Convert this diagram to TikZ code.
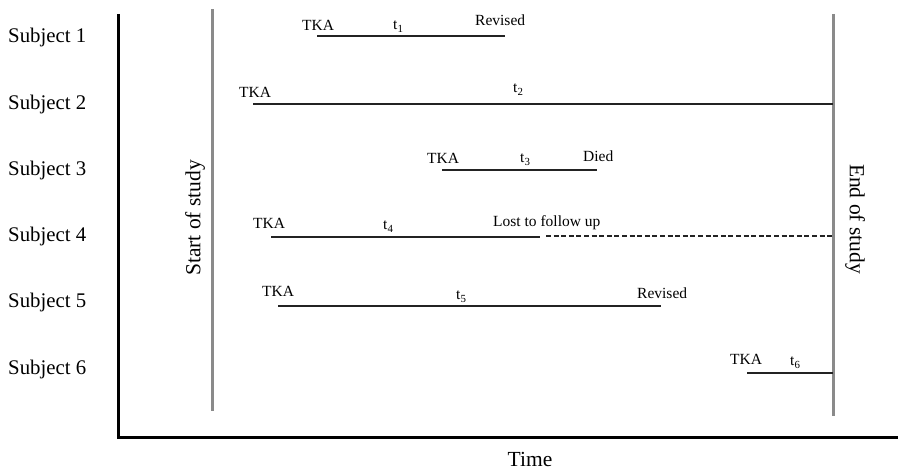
\documentclass[tikz,border=0pt]{standalone}
\usepackage{fontspec}
\setmainfont{Liberation Serif}
\definecolor{studygray}{RGB}{138,138,138}
\definecolor{lifeline}{RGB}{35,35,35}
\begin{document}
\begin{tikzpicture}[x=1pt,y=-1pt,
  subj/.style={anchor=base west,inner sep=0pt,font=\fontsize{20.8}{24}\selectfont},
  lab/.style={anchor=base west,inner sep=0pt,font=\fontsize{15.5}{18}\selectfont},
  big/.style={inner sep=0pt,font=\fontsize{21.5}{25}\selectfont},
  axisline/.style={line width=3pt,black},
  studyline/.style={line width=3pt,studygray},
  life/.style={line width=2pt,lifeline},
  lost/.style={line width=2pt,lifeline,dash pattern=on 5pt off 2.6pt}]
\fill[white] (0,0) rectangle (898,470);
\useasboundingbox (0,0) rectangle (898,470);
% axes
\coordinate (ytop) at (118,14);
\coordinate (origin) at (118,438);
\coordinate (xend) at (898,438);
\draw[axisline] (ytop) -- (origin) -- (xend);
\node[big,anchor=base] (time) at (530,467) {Time};
% study boundaries
\coordinate (st1) at (212,9.5);
\coordinate (st2) at (212,411);
\draw[studyline] (st1) -- (st2);
\coordinate (en1) at (833,14);
\coordinate (en2) at (833,416);
\draw[studyline] (en1) -- (en2);
\node[big,rotate=90] (startlab) at (195,218) {Start of study};
\node[big,rotate=-90] (endlab) at (855,219) {End of study};
% subject labels
\node[subj] (sub1) at (8,43) {Subject 1};
\node[subj] (sub2) at (8,110) {Subject 2};
\node[subj] (sub3) at (8,176) {Subject 3};
\node[subj] (sub4) at (8,242) {Subject 4};
\node[subj] (sub5) at (8,308) {Subject 5};
\node[subj] (sub6) at (8,375) {Subject 6};
% subject 1
\node[lab] (tka1) at (302,31) {TKA};
\node[lab] (t1) at (393,30) {t\textsubscript{1}};
\node[lab] (rev1) at (475,26) {Revised};
\coordinate (a1) at (317,36); \coordinate (b1) at (505,36);
\draw[life] (a1) -- (b1);
% subject 2
\node[lab] (tka2) at (239,98) {TKA};
\node[lab] (t2) at (513,93) {t\textsubscript{2}};
\coordinate (a2) at (253,104); \coordinate (b2) at (833,104);
\draw[life] (a2) -- (b2);
% subject 3
\node[lab] (tka3) at (427,164) {TKA};
\node[lab] (t3) at (520,163) {t\textsubscript{3}};
\node[lab] (died3) at (583,162) {Died};
\coordinate (a3) at (442,170); \coordinate (b3) at (597,170);
\draw[life] (a3) -- (b3);
% subject 4
\node[lab] (tka4) at (253,229) {TKA};
\node[lab] (t4) at (383,230) {t\textsubscript{4}};
\node[lab] (lost4) at (493,227) {Lost to follow up};
\coordinate (a4) at (271,237); \coordinate (b4) at (540,237);
\coordinate (c4) at (546,236.5); \coordinate (d4) at (833,236.5);
\draw[life] (a4) -- (b4);
\draw[lost] (c4) -- (d4);
% subject 5
\node[lab] (tka5) at (262,297) {TKA};
\node[lab] (t5) at (456,300) {t\textsubscript{5}};
\node[lab] (rev5) at (637,299) {Revised};
\coordinate (a5) at (278,306); \coordinate (b5) at (661,306);
\draw[life] (a5) -- (b5);
% subject 6
\node[lab] (tka6) at (730,365) {TKA};
\node[lab] (t6) at (790,366) {t\textsubscript{6}};
\coordinate (a6) at (747,373); \coordinate (b6) at (833,373);
\draw[life] (a6) -- (b6);
\end{tikzpicture}
\end{document}
